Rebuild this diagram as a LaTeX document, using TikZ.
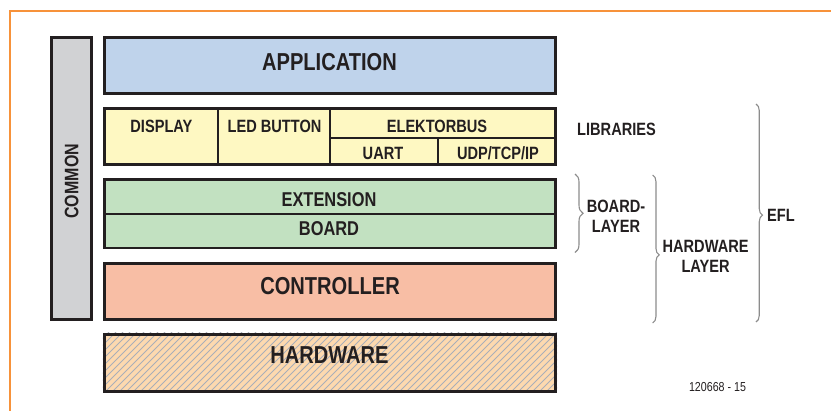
\documentclass[tikz,border=0pt]{standalone}
\usepackage{fontspec}
\setmainfont{Liberation Sans}
\newfontfamily\cf{Liberation Sans}[FakeStretch=0.82]
\usetikzlibrary{decorations.pathreplacing}
\definecolor{ink}{HTML}{231F20}
\definecolor{frameor}{HTML}{F7923A}
\definecolor{appblue}{HTML}{BFD3EB}
\definecolor{libyel}{HTML}{FEF8C2}
\definecolor{brdgreen}{HTML}{C2E1C1}
\definecolor{ctlred}{HTML}{F8BEA5}
\definecolor{hwpeach}{HTML}{FDD9AF}
\definecolor{hatchgray}{HTML}{A9AEB8}
\definecolor{comgray}{HTML}{D1D2D4}
\definecolor{bracegray}{HTML}{8C8C8C}
\tikzset{
  layer/.style={draw=ink, line width=2.8bp, inner sep=0, rectangle},
  frameonly/.style={draw=ink, line width=2.8bp, inner sep=0, rectangle},
  cell/.style={draw=ink, line width=2bp, inner sep=0, rectangle, fill=libyel},
  bigtxt/.style={text=ink, inner sep=0, font=\cf\bfseries\fontsize{24.5bp}{26bp}\selectfont},
  midtxt/.style={text=ink, inner sep=0, font=\cf\bfseries\fontsize{20bp}{22bp}\selectfont},
  smalltxt/.style={text=ink, inner sep=0, font=\cf\bfseries\fontsize{17.8bp}{19.5bp}\selectfont},
  brc/.style={draw=bracegray, line width=1.1bp, decorate, decoration={brace, amplitude=#1}},
}
\begin{document}
\begin{tikzpicture}[x=1bp, y=-1bp]
\useasboundingbox (0,0) rectangle (831,410);
% orange frame
\coordinate (fa) at (10,430);
\coordinate (fb) at (10,11);
\coordinate (fc) at (850,11);
\draw[frameor, line width=2bp] (fa) -- (fb) -- (fc);

% common
\node[layer, fill=comgray, minimum width=39.9bp, minimum height=282.2bp] (common) at (71.35,178.5) {};
\node[midtxt, rotate=90, font=\cf\bfseries\fontsize{19.5bp}{21bp}\selectfont] (commontxt) at (71.7,181.3) {COMMON};

% application
\node[layer, fill=appblue, minimum width=451.2bp, minimum height=55.7bp] (app) at (330,65.25) {};
\node[bigtxt] (apptxt) at (329.5,61.7) {APPLICATION};

% libraries
\node[cell, minimum width=113.6bp, minimum height=55.6bp] (display) at (161.2,136.5) {};
\node[cell, minimum width=112bp, minimum height=55.6bp] (ledbutton) at (274,136.5) {};
\node[cell, minimum width=225.6bp, minimum height=29.6bp] (ebus) at (442.8,123.5) {};
\node[cell, minimum width=108bp, minimum height=26bp] (uart) at (384,151.3) {};
\node[cell, minimum width=117.6bp, minimum height=26bp] (udp) at (496.8,151.3) {};
\node[frameonly, minimum width=451.2bp, minimum height=55.6bp] (libframe) at (330,136.5) {};
\node[smalltxt] (displaytxt) at (161.4,126.2) {DISPLAY};
\node[smalltxt] (ledtxt) at (274.5,126.2) {LED BUTTON};
\node[smalltxt] (ebustxt) at (437,126.2) {ELEKTORBUS};
\node[smalltxt] (uarttxt) at (383,153) {UART};
\node[smalltxt] (udptxt) at (498,153) {UDP/TCP/IP};

% board layer
\node[cell, fill=brdgreen, minimum width=451.2bp, minimum height=34.6bp] (ext) at (330,196.7) {};
\node[cell, fill=brdgreen, minimum width=451.2bp, minimum height=33.9bp] (board) at (330,230.95) {};
\node[frameonly, minimum width=451.2bp, minimum height=68.5bp] (boardframe) at (330,213.65) {};
\node[midtxt] (exttxt) at (329,200) {EXTENSION};
\node[midtxt] (boardtxt) at (329,228.3) {BOARD};

% controller
\node[layer, fill=ctlred, minimum width=451.2bp, minimum height=56.5bp] (ctl) at (330,291.35) {};
\node[bigtxt] (ctltxt) at (330,285.8) {CONTROLLER};

% hardware
\node[layer, fill=hwpeach, minimum width=451.2bp, minimum height=57.2bp] (hw) at (330,362.7) {};
\begin{scope}
  \clip (hw.south west) rectangle (hw.north east);
  \foreach \i in {20,27,...,570} {
    \draw[hatchgray, line width=0.8bp] (\i,400) -- ++(75,-75);
  }
\end{scope}
\node[frameonly, minimum width=451.2bp, minimum height=57.2bp] (hwframe) at (330,362.7) {};
\node[bigtxt] (hwtxt) at (329.5,355.5) {HARDWARE};

% right labels
\node[smalltxt, anchor=west] (libtxt) at (577,129.7) {LIBRARIES};
\coordinate (b1t) at (575,174);
\coordinate (b1b) at (575,252.5);
\draw[brc=8bp, decoration={aspect=0.5}] (b1t) -- (b1b);
\node[smalltxt, align=center] (bltxt) at (616,216.3) {BOARD-\\LAYER};

\coordinate (b2t) at (652.7,175);
\coordinate (b2b) at (652.7,323);
\draw[brc=6.5bp, decoration={aspect=0.54}] (b2t) -- (b2b);
\node[smalltxt, align=center] (hltxt) at (705.6,256.4) {HARDWARE\\LAYER};

\coordinate (b3t) at (756,104);
\coordinate (b3b) at (756,322);
\draw[brc=6.5bp, decoration={aspect=0.51}] (b3t) -- (b3b);
\node[smalltxt, anchor=west] (efltxt) at (767,215.5) {EFL};

\node[text=ink, inner sep=0, font=\cf\fontsize{13bp}{15bp}\selectfont] (fignum) at (717.5,387.3) {120668 - 15};
\end{tikzpicture}
\end{document}
